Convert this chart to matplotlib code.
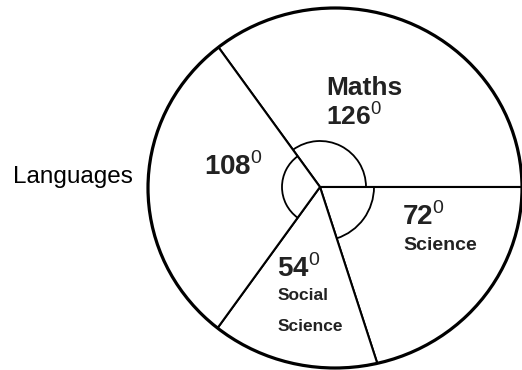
import matplotlib
matplotlib.use("Agg")
import matplotlib.pyplot as plt
from matplotlib.patches import Ellipse, Arc

plt.rcParams['font.family'] = ['Liberation Sans', 'DejaVu Sans']
plt.rcParams['mathtext.fontset'] = 'custom'
plt.rcParams['mathtext.rm'] = 'Liberation Sans'
plt.rcParams['mathtext.bf'] = 'Liberation Sans:bold'

# subjects and their angles (degrees) in the pie
subjects = ["Maths", "Science", "Social Science", "Languages"]
degrees = [126, 72, 54, 108]

W, H = 522, 370
fig = plt.figure(figsize=(W / 100, H / 100), dpi=100)
ax = fig.add_axes([0, 0, 1, 1])

ctr = (320, H - 187)        # point where the radii meet
rim = Ellipse((335, H - 188), 374, 360, fill=False, ec="black", lw=2.3, zorder=5)
ax.add_patch(rim)

wedges, _ = ax.pie(degrees, startangle=126, counterclock=False, center=ctr, radius=300,
                   wedgeprops=dict(facecolor="white", edgecolor="black", linewidth=1.5))
for w in wedges:
    w.set_clip_on(True)
    w.set_clip_path(rim)

# angle marks near the centre
starts = [126]
for d in degrees[:-1]:
    starts.append(starts[-1] - d)
arc_r = [46, 54, 0, 38]
for s, d, r in zip(starts, degrees, arc_r):
    if r:
        ax.add_patch(Arc(ctr, 2 * r, 2 * r, theta1=s - d, theta2=s, lw=1.3, color="black", zorder=4))

ax.set_xlim(0, W)
ax.set_ylim(0, H)
ax.set_aspect("equal")
ax.axis("off")

tc = "#222222"
ax.text(13, H - 183, "Languages", fontsize=17.5, color="black", ha="left", va="baseline")
ax.text(326, H - 95, "Maths", fontsize=19, fontweight="bold", color=tc, va="baseline")
ax.text(326, H - 125, r"$\mathbf{%d}^0$" % degrees[0], fontsize=19, color=tc, va="baseline")
ax.text(204, H - 175, r"$\mathbf{%d}^0$" % degrees[3], fontsize=20, color=tc, va="baseline")
ax.text(402, H - 225, r"$\mathbf{%d}^0$" % degrees[1], fontsize=20, color=tc, va="baseline")
ax.text(403, H - 250, "Science", fontsize=14, fontweight="bold", color=tc, va="baseline")
ax.text(277, H - 277, r"$\mathbf{%d}^0$" % degrees[2], fontsize=20, color=tc, va="baseline")
ax.text(278, H - 300, "Social", fontsize=12.5, fontweight="bold", color=tc, va="baseline")
ax.text(278, H - 331, "Science", fontsize=12.5, fontweight="bold", color=tc, va="baseline")

fig.savefig("out.png", dpi=100)
